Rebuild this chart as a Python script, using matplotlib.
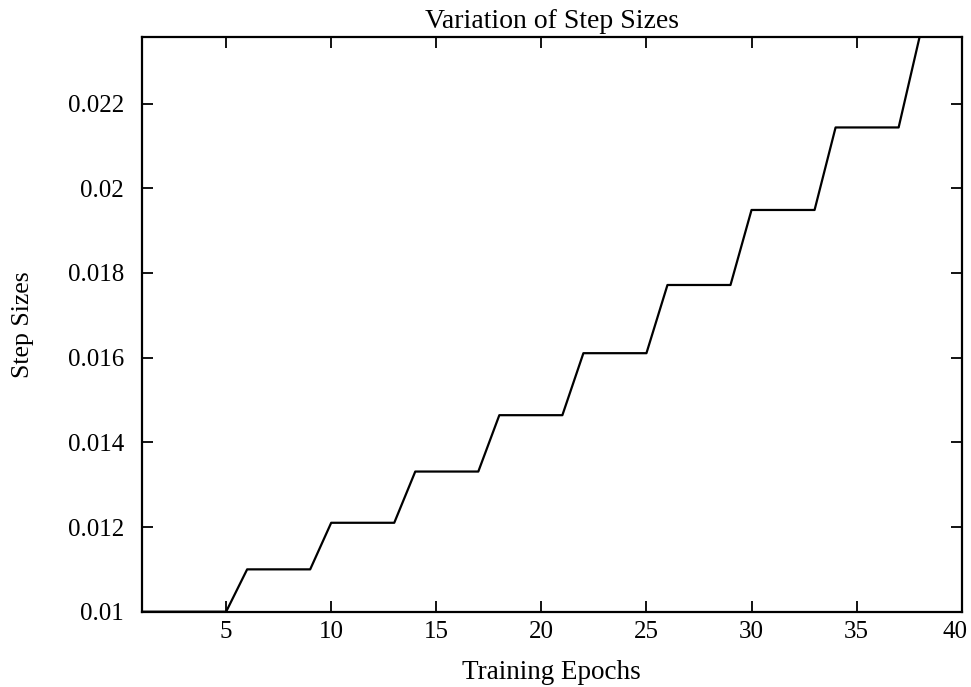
import matplotlib
matplotlib.use("Agg")
import matplotlib.pyplot as plt
import matplotlib.transforms as mtransforms
from matplotlib.ticker import FixedLocator, FuncFormatter

# epochs and step sizes
epochs = list(range(1, 41))
step_sizes = [
    0.01, 0.01, 0.01, 0.01, 0.01,
    0.011, 0.011, 0.011, 0.011,
    0.0121, 0.0121, 0.0121, 0.0121,
    0.01331, 0.01331, 0.01331, 0.01331,
    0.014641, 0.014641, 0.014641, 0.014641,
    0.0161051, 0.0161051, 0.0161051, 0.0161051,
    0.0177156, 0.0177156, 0.0177156, 0.0177156,
    0.0194872, 0.0194872, 0.0194872, 0.0194872,
    0.0214359, 0.0214359, 0.0214359, 0.0214359,
    0.0235795, 0.0235795, 0.0235795,
]
x_ticks = [5, 10, 15, 20, 25, 30, 35, 40]
y_ticks = [0.01, 0.012, 0.014, 0.016, 0.018, 0.02, 0.022]

plt.rcParams["font.family"] = ["Liberation Serif", "DejaVu Serif"]

fig = plt.figure(figsize=(9.71, 6.87), dpi=100, facecolor="white")
ax = fig.add_axes([0.1463, 0.1096, 0.8441, 0.8370])

ax.plot(epochs, step_sizes, color="black", linewidth=1.6)

ax.set_xlim(1, 40)
ax.set_ylim(min(step_sizes), max(step_sizes))
ax.xaxis.set_major_locator(FixedLocator(x_ticks))
ax.yaxis.set_major_locator(FixedLocator(y_ticks))
ax.yaxis.set_major_formatter(FuncFormatter(lambda v, _: f"{v:g}"))
ax.xaxis.set_major_formatter(FuncFormatter(lambda v, _: f"{v:g}"))

ax.tick_params(direction="in", length=8, width=1.3, top=True, right=True,
               labelsize=18, colors="black")
ax.tick_params(axis="y", pad=13)
ax.tick_params(axis="x", pad=7)
for spine in ax.spines.values():
    spine.set_linewidth(1.6)

# nudge the last x label so it stays inside the figure
last = ax.xaxis.get_major_ticks()[-1].label1
last.set_transform(last.get_transform()
                   + mtransforms.ScaledTranslation(-7 / 100, 0, fig.dpi_scale_trans))

ax.set_title("Variation of Step Sizes", fontsize=20, pad=6)
ax.set_xlabel("Training Epochs", fontsize=19.5, labelpad=12)
ax.set_ylabel("Step Sizes", fontsize=18.5, labelpad=24)

fig.savefig("out.png", dpi=100, facecolor="white")
